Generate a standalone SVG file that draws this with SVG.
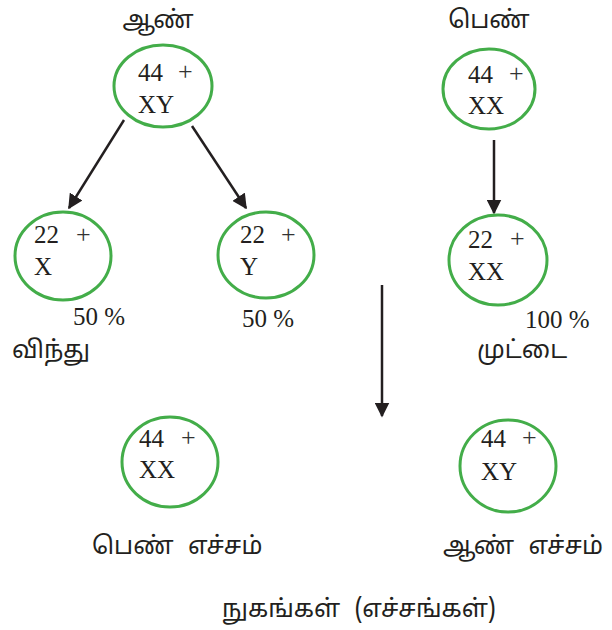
<svg xmlns="http://www.w3.org/2000/svg" width="612" height="630" viewBox="0 0 612 630">
<style>
.c{fill:none;stroke:#43ad49;stroke-width:3}
.n{font-family:"Liberation Serif","Times New Roman",serif;font-size:25px;fill:#231f20}
.p{font-family:"Liberation Serif",serif;font-size:26px;fill:#333}
.t{font-family:"Noto Sans Tamil","Noto Sans","Liberation Sans",sans-serif;font-size:24.5px;fill:#231f20;word-spacing:8px}
</style>
<defs>
<marker id="ah2" viewBox="0 0 10 10" refX="9" refY="5" markerWidth="6" markerHeight="6" orient="auto">
<path d="M0,0 L10,5 L0,10 Z" fill="#231f20"/>
</marker>
</defs>
<g id="connectors">
<line x1="124" y1="120" x2="69" y2="208" stroke="#231f20" stroke-width="2.5" marker-end="url(#ah2)"/>
<line x1="192" y1="126" x2="246" y2="208" stroke="#231f20" stroke-width="2.5" marker-end="url(#ah2)"/>
<line x1="494" y1="140" x2="494" y2="213" stroke="#231f20" stroke-width="2.5" marker-end="url(#ah2)"/>
<line x1="382" y1="285" x2="382" y2="416" stroke="#231f20" stroke-width="2.5" marker-end="url(#ah2)"/>
</g>
<g id="male-parent">
<text class="t" x="158" y="28" text-anchor="middle">ஆண்</text>
<ellipse class="c" cx="163" cy="86" rx="49" ry="41"/>
<text class="n" x="138" y="81">44</text><text class="p" x="178" y="80">+</text>
<text class="n" x="138" y="113">XY</text>
</g>
<g id="female-parent">
<text class="t" x="489" y="28" text-anchor="middle">பெண்</text>
<ellipse class="c" cx="489" cy="89" rx="46" ry="40"/>
<text class="n" x="468" y="83">44</text><text class="p" x="509" y="82">+</text>
<text class="n" x="468" y="114">XX</text>
</g>
<g id="sperm-x">
<ellipse class="c" cx="63" cy="256" rx="48" ry="44"/>
<text class="n" x="34" y="243">22</text><text class="p" x="76" y="243">+</text>
<text class="n" x="34" y="275">X</text>
<text class="n" x="73" y="325">50 %</text>
<text class="t" x="12" y="358">விந்து</text>
</g>
<g id="sperm-y">
<ellipse class="c" cx="266" cy="255" rx="48" ry="43"/>
<text class="n" x="240" y="243">22</text><text class="p" x="281" y="243">+</text>
<text class="n" x="240" y="275">Y</text>
<text class="n" x="242" y="327">50 %</text>
</g>
<g id="egg">
<ellipse class="c" cx="498" cy="260" rx="49" ry="45"/>
<text class="n" x="468" y="248">22</text><text class="p" x="510" y="247">+</text>
<text class="n" x="468" y="280">XX</text>
<text class="n" x="525" y="328">100 %</text>
<text class="t" x="477" y="358">முட்டை</text>
</g>
<g id="female-zygote">
<ellipse class="c" cx="170" cy="462" rx="48" ry="45"/>
<text class="n" x="139" y="447">44</text><text class="p" x="181" y="446">+</text>
<text class="n" x="139" y="478">XX</text>
<text class="t" x="92" y="554">பெண் எச்சம்</text>
</g>
<g id="male-zygote">
<ellipse class="c" cx="508" cy="466" rx="48" ry="46"/>
<text class="n" x="481" y="447">44</text><text class="p" x="522" y="446">+</text>
<text class="n" x="481" y="480">XY</text>
<text class="t" x="443" y="554">ஆண் எச்சம்</text>
</g>
<g id="caption">
<text class="t" x="222" y="617">நுகங்கள் (எச்சங்கள்)</text>
</g>
</svg>
